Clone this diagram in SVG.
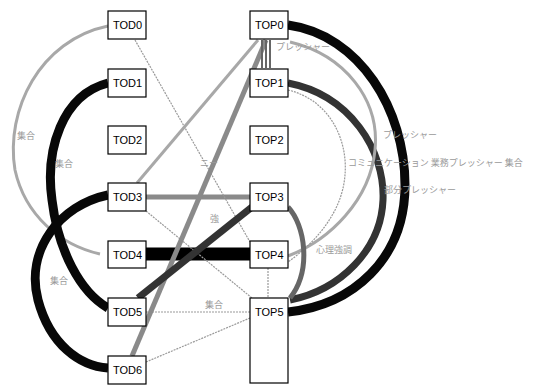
<svg xmlns="http://www.w3.org/2000/svg" width="537" height="385" viewBox="0 0 537 385">
<style>
.n rect{fill:#fff;stroke:#000;stroke-width:1.2}
.n text{font-family:"Liberation Sans",Arial,sans-serif;font-size:11px;fill:#000}
.e path{fill:none}
.thin{stroke:#9a9a9a;stroke-width:1.2;stroke-dasharray:2 1}
.lg{stroke:#a8a8a8;stroke-width:3}
.mg{stroke:#8a8a8a;stroke-width:5}
.dk{stroke:#333;stroke-width:7}
.bk{stroke:#080808;stroke-width:9}
.lbl{font-family:"Noto Sans CJK JP","Noto Sans",sans-serif;font-size:9px;fill:#9a9a9a}
</style>
<rect width="537" height="385" fill="#fff"/>
<g id="connectors" class="e">
<path class="lg" d="M108,26 C40,40 5,110 15,170 C25,215 60,245 100,254"/>
<path class="bk" d="M108,83 C62,95 45,150 52,200 C58,250 80,292 108,308"/>
<path class="bk" d="M108,195 C60,205 25,250 38,300 C50,345 80,366 108,368"/>
<path class="mg" d="M146,197 L250,197"/>
<path stroke="#000" stroke-width="13" d="M146,254 L250,254"/>
<path class="thin" d="M146,312 L250,312"/>
<path class="thin" d="M146,362 L250,318"/>
<path class="thin" d="M135,40 L250,242"/>
<path class="thin" d="M146,211 L252,298"/>
<path class="lg" d="M258,40 L137,183"/>
<path class="mg" d="M266,40 L132,356"/>
<path class="dk" stroke-width="8" d="M252,207 L138,298"/>
<path stroke="#666" stroke-width="2" d="M262,40 L262,68 M266,40 L266,68 M270,40 L270,68"/>
<path class="thin" d="M268,268 L268,298"/>
<path class="bk" d="M288,25 C360,35 405,110 405,185 C405,260 352,305 288,312"/>
<path class="dk" stroke-width="6" d="M288,83 C350,95 385,150 383,200 C381,250 340,290 290,300"/>
<path class="lg" stroke-width="2.5" d="M290,42 C345,55 380,100 375,150 C370,200 330,240 288,256"/>
<path class="thin" d="M288,90 C330,100 348,140 345,175 C342,215 312,245 288,262"/>
<path stroke="#666" stroke-width="5" d="M288,207 C305,225 312,270 290,298"/>
</g>
<g id="labels">
<text class="lbl" x="276" y="50">プレッシャー</text>
<text class="lbl" x="383" y="138">プレッシャー</text>
<text class="lbl" x="348" y="166">コミュニケーション 業務プレッシャー 集合</text>
<text class="lbl" x="384" y="193">部分プレッシャー</text>
<text class="lbl" x="316" y="253">心理強調</text>
<text class="lbl" x="17" y="139" font-size="10px">集合</text>
<text class="lbl" x="55" y="167">集合</text>
<text class="lbl" x="50" y="284">集合</text>
<text class="lbl" x="200" y="166">ニー</text>
<text class="lbl" x="210" y="222">強</text>
<text class="lbl" x="205" y="308">集合</text>
</g>
<g id="TOD0" class="n"><rect x="108" y="11" width="38" height="28"/><text x="113" y="29">TOD0</text></g>
<g id="TOD1" class="n"><rect x="108" y="69" width="38" height="28"/><text x="113" y="87">TOD1</text></g>
<g id="TOD2" class="n"><rect x="108" y="126" width="38" height="28"/><text x="113" y="144">TOD2</text></g>
<g id="TOD3" class="n"><rect x="108" y="183" width="38" height="28"/><text x="113" y="201">TOD3</text></g>
<g id="TOD4" class="n"><rect x="108" y="241" width="38" height="27"/><text x="113" y="259">TOD4</text></g>
<g id="TOD5" class="n"><rect x="108" y="298" width="38" height="28"/><text x="113" y="316">TOD5</text></g>
<g id="TOD6" class="n"><rect x="108" y="356" width="38" height="28"/><text x="113" y="374">TOD6</text></g>
<g id="TOP0" class="n"><rect x="250" y="11" width="38" height="28"/><text x="255" y="29">TOP0</text></g>
<g id="TOP1" class="n"><rect x="250" y="69" width="38" height="28"/><text x="255" y="87">TOP1</text></g>
<g id="TOP2" class="n"><rect x="250" y="126" width="38" height="28"/><text x="255" y="144">TOP2</text></g>
<g id="TOP3" class="n"><rect x="250" y="183" width="38" height="28"/><text x="255" y="201">TOP3</text></g>
<g id="TOP4" class="n"><rect x="250" y="241" width="38" height="27"/><text x="255" y="259">TOP4</text></g>
<g id="TOP5" class="n"><rect x="250" y="298" width="38" height="85"/><text x="255" y="316">TOP5</text></g>
</svg>
